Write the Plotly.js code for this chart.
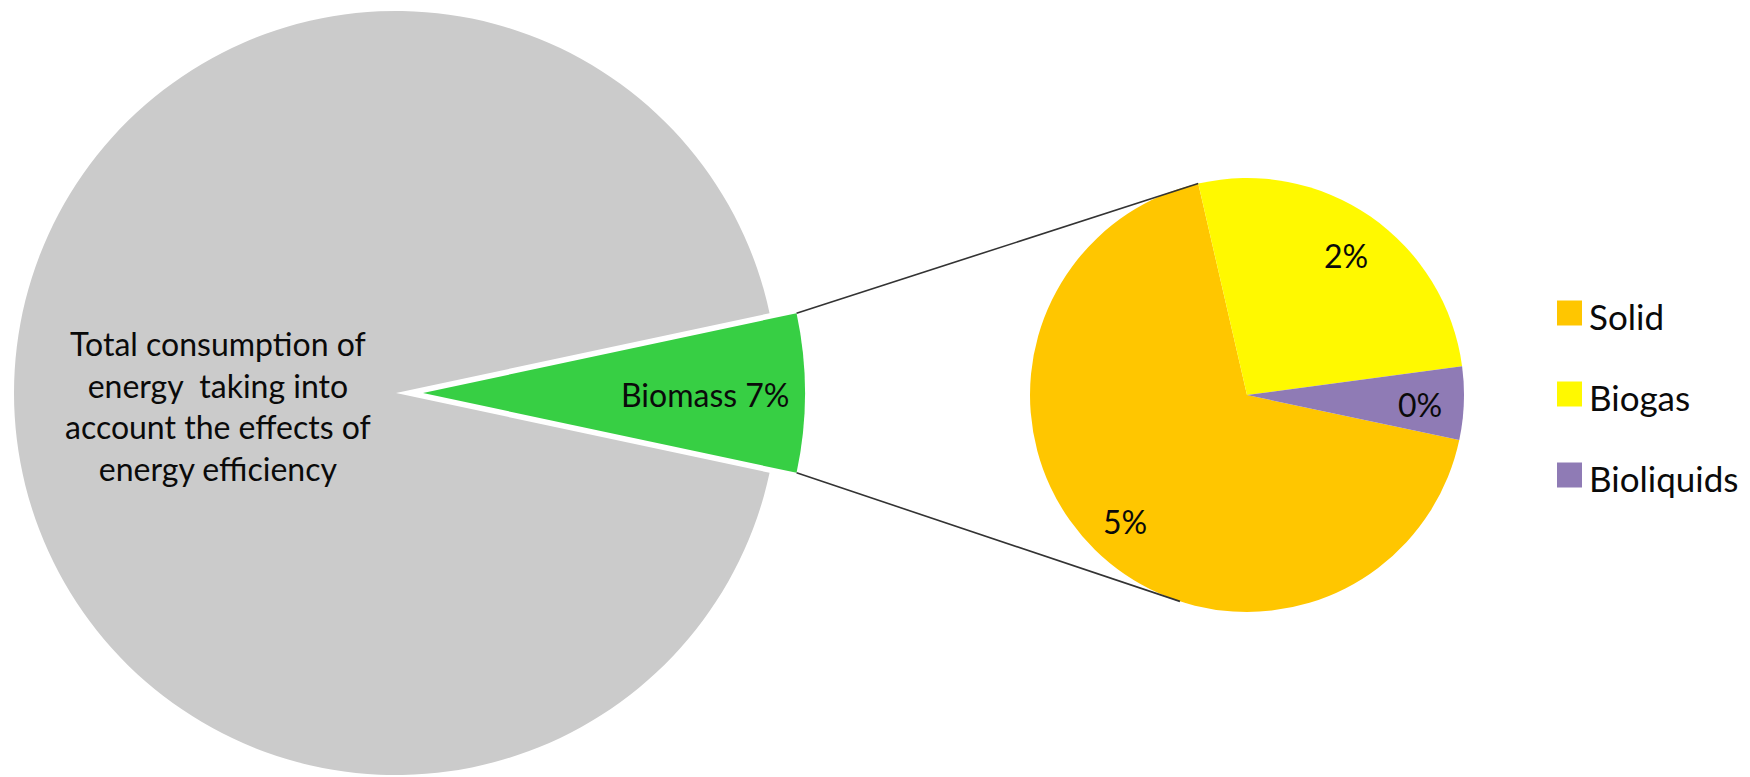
<!DOCTYPE html>
<html>
<head>
<meta charset="utf-8">
<script src="https://cdn.plot.ly/plotly-3.0.1.min.js"></script>
<style>html,body{margin:0;padding:0;background:#fff}#chart{width:1750px;height:777px}</style>
</head>
<body>
<div id="chart"></div>
<script>
// ---------- Data ----------
const overviewLabels = ['Biomass', 'Total consumption of energy  taking into account the effects of energy efficiency'];
const overviewValues = [6.7, 93.3];
const overviewColors = ['#37CF44', '#CBCBCB'];
const totalLabelLines = ['Total consumption of', 'energy  taking into', 'account the effects of', 'energy efficiency'];

const biomassLabels = ['Solid', 'Biogas', 'Bioliquids'];
const biomassValues = [4.56, 1.775, 0.365];
const biomassColors = ['#FFC600', '#FFF900', '#8F7BB5'];

// ---------- Geometry / style ----------
const W = 1750, H = 777;
const FONT = 'Lato, "Open Sans", sans-serif';
const FS = 32;
const LFS = 35;
const TXT = '#0a0a0a';
const big = {cx: 396, cy: 393, r: 382};
const pullPx = 27;
const small = {cx: 1247, cy: 395, r: 217};
const smallRotation = 102;
const lowerConnectorDeg = 198;
const legendPos = {x: 1557, y: 313, gap: 81, sw: 25};
const totalLabelPos = {x: 218, y: 406};

const px = x => x / W;
const py = y => 1 - y / H;
const dom = (c, dx) => ({x: [px(c.cx - c.r + (dx||0)), px(c.cx + c.r + (dx||0))], y: [py(c.cy + c.r), py(c.cy - c.r)]});
const pt = (cx, cy, r, deg) => [cx + r * Math.sin(deg * Math.PI / 180), cy - r * Math.cos(deg * Math.PI / 180)];

const overviewTotal = overviewValues.reduce((a, b) => a + b, 0);
const biomassSpan = 360 * overviewValues[0] / overviewTotal;
const bigRotation = 90 - biomassSpan / 2;

const transparent = 'rgba(0,0,0,0)';
const traces = [
  { // Total consumption (grey)
    type: 'pie', labels: overviewLabels, values: overviewValues, sort: false,
    direction: 'clockwise', rotation: bigRotation,
    marker: {colors: [transparent, overviewColors[1]], line: {width: 0}},
    textinfo: 'none', hoverinfo: 'label+value', showlegend: false,
    domain: dom(big)
  },
  { // Biomass slice (pulled out)
    type: 'pie', labels: overviewLabels, values: overviewValues, sort: false,
    direction: 'clockwise', rotation: bigRotation,
    marker: {colors: [overviewColors[0], transparent], line: {width: 0}},
    textinfo: 'none', hoverinfo: 'label+value', showlegend: false,
    domain: dom(big, pullPx)
  },
  { // Biomass breakdown
    type: 'pie', labels: biomassLabels, values: biomassValues, sort: false,
    direction: 'clockwise', rotation: smallRotation,
    marker: {colors: biomassColors, line: {width: 0}},
    textinfo: 'none', hoverinfo: 'label+value', showlegend: false,
    domain: dom(small)
  }
];

const annotations = [];
const shapes = [];

// big pie labels
annotations.push({x: px(totalLabelPos.x), y: py(totalLabelPos.y), xref: 'paper', yref: 'paper',
  text: totalLabelLines.join('<br>'), showarrow: false, xanchor: 'center', yanchor: 'middle',
  font: {family: FONT, size: FS, color: TXT}});
const bioMid = bigRotation + biomassSpan / 2;
const bioPos = pt(big.cx + pullPx, big.cy, big.r * 0.74, bioMid);
annotations.push({x: px(bioPos[0]), y: py(bioPos[1] + 1), xref: 'paper', yref: 'paper',
  text: overviewLabels[0] + ' ' + Math.round(overviewValues[0]) + '%', showarrow: false, xanchor: 'center', yanchor: 'middle',
  font: {family: FONT, size: FS, color: TXT}});

// small pie labels
const smallTotal = biomassValues.reduce((a, b) => a + b, 0);
let acc = smallRotation;
const sliceStart = [];
biomassValues.forEach((v, i) => {
  const span = 360 * v / smallTotal;
  sliceStart.push(acc);
  const p = pt(small.cx, small.cy, small.r * 0.8, acc + span / 2);
  annotations.push({x: px(p[0]), y: py(p[1] + 3), xref: 'paper', yref: 'paper',
    text: Math.round(v) + '%', showarrow: false, xanchor: 'center', yanchor: 'middle',
    font: {family: FONT, size: FS, color: TXT}});
  acc += span;
});

// connectors
const gTop = pt(big.cx + pullPx, big.cy, big.r, bigRotation);
const gBot = pt(big.cx + pullPx, big.cy, big.r, bigRotation + biomassSpan);
const sTop = pt(small.cx, small.cy, small.r, sliceStart[1]);
const sBot = pt(small.cx, small.cy, small.r, lowerConnectorDeg);
[[gTop, sTop], [gBot, sBot]].forEach(([a, b]) => {
  shapes.push({type: 'line', xref: 'paper', yref: 'paper', x0: px(a[0]), y0: py(a[1]), x1: px(b[0]), y1: py(b[1]),
    line: {color: '#333333', width: 1.6}});
});

// legend
biomassLabels.forEach((lab, i) => {
  const yc = legendPos.y + i * legendPos.gap;
  shapes.push({type: 'rect', xref: 'paper', yref: 'paper',
    x0: px(legendPos.x), x1: px(legendPos.x + legendPos.sw),
    y0: py(yc + legendPos.sw / 2), y1: py(yc - legendPos.sw / 2),
    fillcolor: biomassColors[i], line: {width: 0}});
  annotations.push({x: px(legendPos.x + legendPos.sw + 5), y: py(yc + 3), xref: 'paper', yref: 'paper',
    text: lab, showarrow: false, xanchor: 'left', yanchor: 'middle',
    font: {family: FONT, size: LFS, color: TXT}});
});

const layout = {
  width: W, height: H, autosize: false,
  margin: {l: 0, r: 0, t: 0, b: 0, pad: 0},
  paper_bgcolor: '#ffffff', plot_bgcolor: '#ffffff',
  showlegend: false,
  annotations: annotations, shapes: shapes,
  font: {family: FONT, size: FS, color: TXT}
};

Plotly.newPlot('chart', traces, layout, {displayModeBar: false, staticPlot: true});
</script>
</body>
</html>
